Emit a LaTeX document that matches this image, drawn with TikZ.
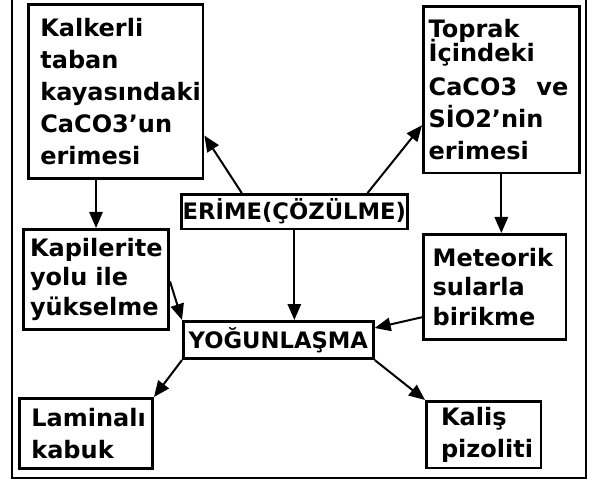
\documentclass[tikz,border=0pt]{standalone}
\usepackage{fontspec}
\setsansfont{DejaVu Sans}
\usepackage{tikz}
\usetikzlibrary{arrows.meta}
\usetikzlibrary{calc}

\begin{document}
\begin{tikzpicture}[x=0.75pt,y=0.75pt,yscale=-1,xscale=1,
  box/.style={draw, line width=2pt, anchor=north west, align=left, inner ysep=2pt,
    font=\sffamily\bfseries\fontsize{18}{24}\selectfont},
  lbox/.style={draw, line width=2pt, anchor=north west, align=center, inner sep=1pt,
    font=\sffamily\bfseries\fontsize{17}{18}\selectfont},
  arr/.style={line width=1.5pt, -{Triangle[length=12pt,width=10pt]}}]
\useasboundingbox (0,0) rectangle (598,484);

%Shape: Frame (open at top)
\draw [line width=1.8pt] (12,0) -- (12,478) -- (586,478) -- (586,0) ;

% Text Node
\draw (27,3) node (kalk) [box, inner xsep=9pt, text width=113pt, minimum height=130.5pt] {Kalkerli\\taban\\kayasındaki\\CaCO3'un\\erimesi};
% Text Node
\draw (422,5) node (toprak) [box, inner xsep=4pt, text width=109pt, minimum height=125pt] {Toprak\\[-6pt]İçindeki\\[2pt]CaCO3\hspace{0.8em}ve\\SİO2'nin\\erimesi};
% Text Node
\draw (180,193) node (erime) [lbox, minimum width=167pt, minimum height=26pt] {ERİME(ÇÖZÜLME)};
% Text Node
\draw (22,228) node (kapil) [box, font=\sffamily\bfseries\fontsize{18}{22}\selectfont, inner xsep=5pt, text width=99pt, minimum height=75pt] {Kapilerite\\yolu ile\\yükselme};
% Text Node
\draw (422,233) node (meteor) [box, font=\sffamily\bfseries\fontsize{18}{22}\selectfont, inner xsep=7pt, text width=93pt, minimum height=79pt] {Meteorik\\sularla\\birikme};
% Text Node
\draw (182,320) node (yog) [lbox, minimum width=142.5pt, minimum height=28pt] {YOĞUNLAŞMA};
% Text Node
\draw (18,397) node (lam) [box, inner xsep=9pt, text width=82pt, minimum height=52.5pt] {Laminalı\\kabuk};
% Text Node
\draw (425,400) node (kalis) [box, inner xsep=11pt, text width=64pt, minimum height=50pt] {Kaliş\\pizoliti};

%Arrows
\draw [arr] ($(erime.north west)!0.27!(erime.north east)$) -- ($(kalk.north east)!0.75!(kalk.south east)$) ;
\draw [arr] ($(erime.north west)!0.82!(erime.north east)$) -- ($(toprak.north west)!0.71!(toprak.south west)$) ;
\draw [arr] (erime.south) -- (erime.south |- yog.north) ;
\draw [arr] (kapil.north |- kalk.south) -- (kapil.north) ;
\draw [arr] (toprak.south) -- (toprak.south |- meteor.north) ;
\draw [arr] ($(kapil.north east)!0.52!(kapil.south east)$) -- (yog.north west) ;
\draw [arr] ($(meteor.north west)!0.78!(meteor.south west)$) -- ($(yog.north east)!0.2!(yog.south east)$) ;
\draw [arr] (yog.south west) -- (lam.north east) ;
\draw [arr] (yog.south east) -- (kalis.north west) ;

\end{tikzpicture}
\end{document}
